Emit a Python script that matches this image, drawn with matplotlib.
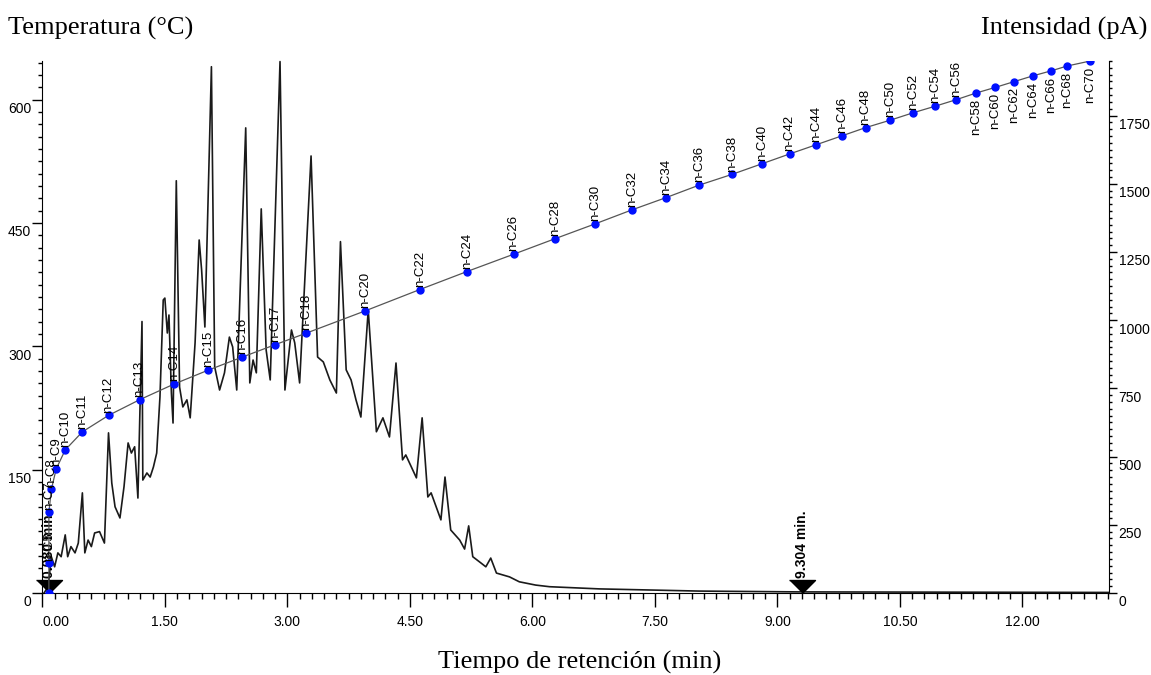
import numpy as np
import matplotlib
matplotlib.use('Agg')
import matplotlib.pyplot as plt
import matplotlib.transforms as mtransforms
from matplotlib.ticker import MultipleLocator, FormatStrFormatter

plt.rcParams['font.family'] = ['Liberation Sans', 'DejaVu Sans']

# chromatogram trace (retention time in min, intensity in pA)
ret_time = [0.02, 0.07, 0.11, 0.15, 0.19, 0.23, 0.28, 0.31, 0.35, 0.40,
            0.44, 0.49, 0.52, 0.56, 0.60, 0.64, 0.70, 0.76, 0.81, 0.85,
            0.89, 0.95, 1.00, 1.05, 1.09, 1.13, 1.17, 1.22, 1.23, 1.28,
            1.32, 1.36, 1.40, 1.44, 1.48, 1.50, 1.53, 1.55, 1.58, 1.60,
            1.64, 1.68, 1.72, 1.77, 1.81, 1.87, 1.92, 1.95, 1.99, 2.07,
            2.11, 2.17, 2.23, 2.29, 2.33, 2.38, 2.49, 2.54, 2.58, 2.62,
            2.68, 2.74, 2.79, 2.91, 2.97, 3.05, 3.09, 3.15, 3.29, 3.37,
            3.44, 3.52, 3.60, 3.65, 3.72, 3.78, 3.84, 3.90, 3.99, 4.09,
            4.17, 4.25, 4.33, 4.41, 4.45, 4.58, 4.65, 4.72, 4.76, 4.88,
            4.93, 5.00, 5.11, 5.17, 5.22, 5.27, 5.37, 5.43, 5.49, 5.56,
            5.72, 5.84, 6.04, 6.21, 6.82, 8.04, 9.26, 13.06]
signal = [0, 22, 133, 96, 147, 133, 213, 133, 170, 147,
          183, 367, 147, 194, 170, 220, 225, 183, 587, 403,
          316, 275, 390, 550, 513, 536, 348, 995, 414, 440,
          425, 462, 513, 719, 1074, 1081, 953, 1019, 733, 623,
          1511, 755, 682, 708, 642, 917, 1294, 1184, 975, 1929,
          829, 744, 807, 938, 902, 744, 1705, 770, 854, 807,
          1408, 891, 781, 1948, 744, 964, 917, 770, 1602, 865,
          847, 781, 733, 1288, 818, 781, 708, 645, 1037, 591,
          642, 572, 843, 488, 506, 422, 642, 352, 367, 268,
          425, 231, 194, 161, 246, 133, 110, 96, 128, 73,
          59, 41, 29, 23, 15, 7, 4, 2]

# n-alkane calibration (retention time vs boiling point)
alkanes = ['n-C4', 'n-C5', 'n-C7', 'n-C8', 'n-C9', 'n-C10', 'n-C11', 'n-C12',
           'n-C13', 'n-C14', 'n-C15', 'n-C16', 'n-C17', 'n-C18', 'n-C20',
           'n-C22', 'n-C24', 'n-C26', 'n-C28', 'n-C30', 'n-C32', 'n-C34',
           'n-C36', 'n-C38', 'n-C40', 'n-C42', 'n-C44', 'n-C46', 'n-C48',
           'n-C50', 'n-C52', 'n-C54', 'n-C56', 'n-C58', 'n-C60', 'n-C62',
           'n-C64', 'n-C66', 'n-C68', 'n-C70']
alk_time = [0.08, 0.08, 0.08, 0.11, 0.17, 0.28, 0.49, 0.81,
            1.19, 1.61, 2.03, 2.45, 2.85, 3.23, 3.95,
            4.62, 5.20, 5.77, 6.28, 6.77, 7.22, 7.64,
            8.04, 8.44, 8.81, 9.15, 9.47, 9.79, 10.08,
            10.38, 10.66, 10.93, 11.19, 11.43, 11.67, 11.90,
            12.13, 12.35, 12.55, 12.83]
alk_temp = [0, 36, 98, 126, 151, 174, 196, 216,
            235, 254, 271, 287, 302, 316, 343,
            369, 391, 412, 431, 449, 466, 481,
            496, 509, 522, 534, 545, 556, 566,
            575, 584, 592, 600, 608, 615, 622,
            629, 635, 641, 647]

# integration markers
mark_time = [0.08, 9.304]
mark_label = ['0.080 min.', '9.304 min.']

fig = plt.figure(figsize=(11.51, 6.75), dpi=100)
ax = fig.add_axes([0.0368, 0.1215, 0.9267, 0.7881])
ax2 = ax.twinx()
ax.set_zorder(ax2.get_zorder() + 1)
ax.patch.set_visible(False)

ax2.plot(ret_time, signal, color='#1a1a1a', lw=1.2, clip_on=False)

ax.plot(alk_time, alk_temp, color='#555555', lw=0.9, zorder=3)
ax.plot(alk_time, alk_temp, 'o', color='#0010ff', ms=5, zorder=4)
for name, t, temp in zip(alkanes, alk_time, alk_temp):
    if name == 'n-C4':
        continue
    num = int(name[3:])
    if num >= 58:
        ax.annotate(name, (t, temp), xytext=(0, -4), textcoords='offset points',
                    rotation=90, ha='center', va='top', fontsize=9.5, zorder=5)
    else:
        ax.annotate(name, (t, temp), xytext=(0, 2), textcoords='offset points',
                    rotation=90, ha='center', va='bottom', fontsize=9.5, zorder=5)

tri = [(-1, 1), (1, 1), (0, 0)]
for t, lab in zip(mark_time, mark_label):
    ax2.plot([t], [0], marker=tri, color='black', ms=18.7, clip_on=False, zorder=6)
    ax2.annotate(lab, (t, 0), xytext=(0, 11), textcoords='offset points',
                 rotation=90, ha='center', va='bottom', fontsize=10,
                 fontweight='bold')

ax.set_xlim(0, 13.06)
ax.set_ylim(0, 647)
ax2.set_ylim(0, 1950)

ax.xaxis.set_major_locator(MultipleLocator(1.5))
ax.xaxis.set_minor_locator(MultipleLocator(0.15))
ax.xaxis.set_major_formatter(FormatStrFormatter('%.2f'))
ax.yaxis.set_major_locator(MultipleLocator(150))
ax.yaxis.set_minor_locator(MultipleLocator(15))
ax2.yaxis.set_major_locator(MultipleLocator(250))
ax2.yaxis.set_minor_locator(MultipleLocator(25))

ax.tick_params(axis='x', which='major', length=10, width=1, labelsize=10, pad=6)
ax.tick_params(axis='x', which='minor', length=4, width=1)
ax.tick_params(axis='y', which='major', length=7, width=1, labelsize=10, pad=1)
ax.tick_params(axis='y', which='minor', length=3, width=1)
ax2.tick_params(axis='y', which='major', length=6, width=1, labelsize=10, pad=1)
ax2.tick_params(axis='y', which='minor', length=2.5, width=1)

for a in (ax, ax2):
    a.spines['top'].set_visible(False)
ax.spines['right'].set_visible(False)
ax2.spines['left'].set_visible(False)
ax2.spines['bottom'].set_visible(False)

fig.text(0.007, 0.9585, 'Temperatura (°C)', family='Liberation Serif',
         fontsize=19, ha='left', va='center')
fig.text(0.9965, 0.9585, 'Intensidad (pA)', family='Liberation Serif',
         fontsize=19, ha='right', va='center')
fig.text(0.504, 0.0193, 'Tiempo de retención (min)', family='Liberation Serif',
         fontsize=19, ha='center', va='center')

# tick labels sit a little below their ticks, as in the original software
fig.canvas.draw()
off = mtransforms.ScaledTranslation(0, -8 / 100, fig.dpi_scale_trans)
for tk in ax.yaxis.get_major_ticks():
    tk.label1.set_transform(tk.label1.get_transform() + off)
for tk in ax2.yaxis.get_major_ticks():
    tk.label2.set_transform(tk.label2.get_transform() + off)
for tk in ax.xaxis.get_major_ticks():
    if tk.label1.get_text() == '0.00':
        tk.label1.set_horizontalalignment('left')

fig.savefig('out.png', dpi=100)
